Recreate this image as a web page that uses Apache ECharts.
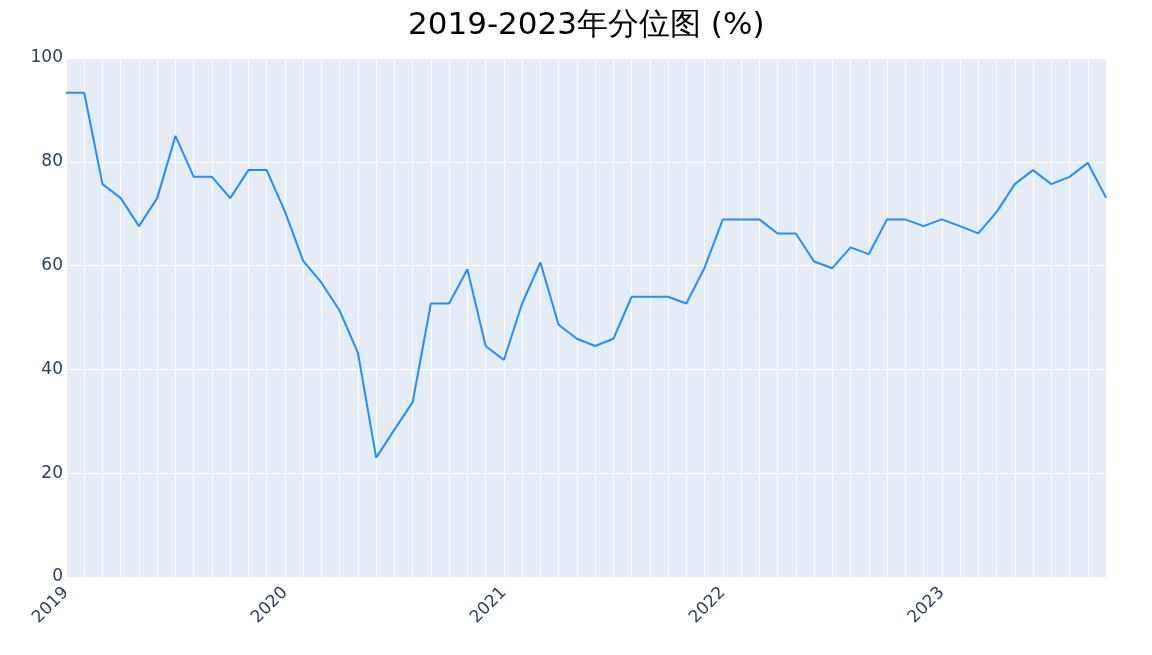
<!DOCTYPE html>
<html>
<head>
<meta charset="utf-8">
<script src="https://cdn.jsdelivr.net/npm/echarts@6/dist/echarts.min.js"></script>
<style>html,body{margin:0;padding:0;background:#fff}#c{width:1152px;height:655px}</style>
</head>
<body>
<div id="c"></div>
<script>
const titleText = '2019-2023年分位图 (%)';
const months = [];
for (let y = 2019; y <= 2023; y++) {
  for (let m = 1; m <= 12; m++) {
    if (y === 2023 && m > 10) break;
    months.push(y + '-' + String(m).padStart(2, '0'));
  }
}
const values = [
  93.3, 93.3, 75.7, 73.0, 67.6, 73.0, 85.0, 77.1, 77.1, 73.0, 78.4, 78.4,
  70.4, 60.9, 56.7, 51.3, 43.2, 23.0, 28.4, 33.7, 52.7, 52.7, 59.3, 44.5,
  41.8, 52.7, 60.6, 48.6, 45.9, 44.5, 45.9, 54.0, 54.0, 54.0, 52.7, 59.6,
  68.9, 68.9, 68.9, 66.2, 66.2, 60.8, 59.5, 63.5, 62.2, 68.9, 68.9, 67.6,
  68.9, 67.6, 66.2, 70.3, 75.7, 78.4, 75.7, 77.1, 79.8, 73.1
];
const yTicks = [0, 20, 40, 60, 80, 100];

const font = 'DejaVu Sans, Verdana, sans-serif';
const chart = echarts.init(document.getElementById('c'), null, {renderer: 'canvas'});
chart.setOption({
  animation: false,
  backgroundColor: '#ffffff',
  title: {
    text: titleText,
    left: 408,
    top: 10,
    padding: 0,
    textStyle: {fontFamily: font, fontSize: 31, fontWeight: 'normal', color: '#000000'}
  },
  grid: {
    left: 66, right: 46, top: 58, bottom: 78,
    show: true, backgroundColor: '#E5ECF6', borderWidth: 0
  },
  xAxis: {
    type: 'category',
    data: months,
    boundaryGap: false,
    axisLine: {show: false},
    axisTick: {show: false},
    splitLine: {show: true, interval: 0, lineStyle: {color: '#ffffff', width: 1}},
    axisLabel: {
      interval: 0,
      rotate: 45,
      margin: 13,
      fontFamily: font,
      fontSize: 17,
      color: '#2a3f5f',
      formatter: v => v.endsWith('-01') ? v.slice(0, 4) : ''
    }
  },
  yAxis: {
    type: 'value',
    min: yTicks[0],
    max: yTicks[yTicks.length - 1],
    interval: 20,
    axisLine: {show: false},
    axisTick: {show: false},
    splitLine: {show: true, lineStyle: {color: '#ffffff', width: 1}},
    axisLabel: {margin: 3, fontFamily: font, fontSize: 17, color: '#2a3f5f', padding: [6, 0, 0, 0]}
  },
  series: [{
    type: 'line',
    data: values,
    symbol: 'none',
    lineStyle: {color: '#1E90FF', width: 2},
    itemStyle: {color: '#1E90FF'}
  }]
});
</script>
</body>
</html>
